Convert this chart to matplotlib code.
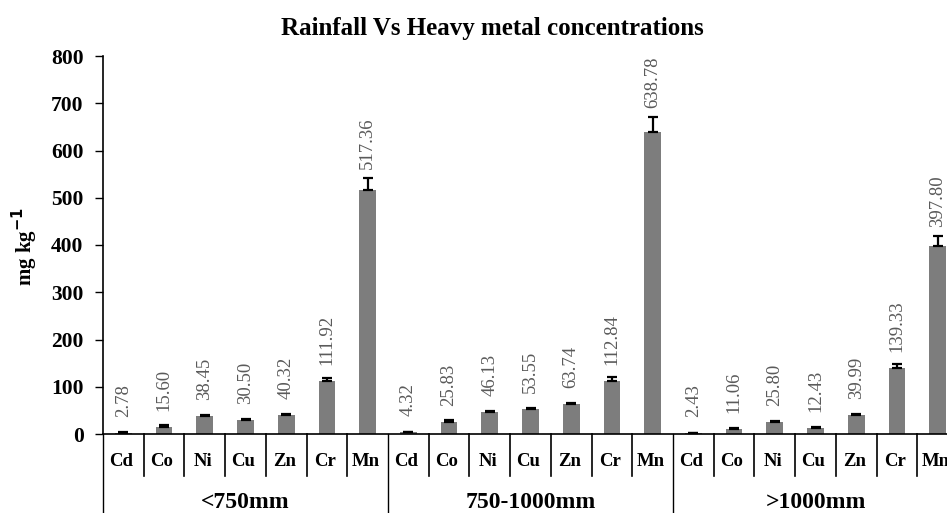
import matplotlib
matplotlib.use("Agg")
import matplotlib.pyplot as plt
import matplotlib.transforms as mtransforms
import numpy as np

metals = ["Cd", "Co", "Ni", "Cu", "Zn", "Cr", "Mn"]
groups = ["<750mm", "750-1000mm", ">1000mm"]
values_lt750 = [2.78, 15.60, 38.45, 30.50, 40.32, 111.92, 517.36]
values_750_1000 = [4.32, 25.83, 46.13, 53.55, 63.74, 112.84, 638.78]
values_gt1000 = [2.43, 11.06, 25.80, 12.43, 39.99, 139.33, 397.80]
errors_lt750 = [0.5, 2.5, 2.0, 2.0, 2.5, 7.0, 25.0]
errors_750_1000 = [0.5, 3.0, 2.0, 2.0, 2.5, 7.0, 32.0]
errors_gt1000 = [0.5, 2.0, 2.5, 1.5, 2.5, 8.0, 22.0]
yticks = [0, 100, 200, 300, 400, 500, 600, 700, 800]

plt.rcParams['font.family'] = ['Liberation Serif', 'DejaVu Serif']

values = values_lt750 + values_750_1000 + values_gt1000
errors = errors_lt750 + errors_750_1000 + errors_gt1000
n = len(values)
x = np.arange(n)

W, H = 947, 513
fig = plt.figure(figsize=(W / 100, H / 100), dpi=100)
ax_left, ax_right, ax_top, ax_bot = 103, 958, 56, 434
ax = fig.add_axes([ax_left / W, 1 - ax_bot / H, (ax_right - ax_left) / W, (ax_bot - ax_top) / H])

ax.bar(x, values, width=0.41, color="#7d7d7d", zorder=2)
ax.errorbar(x, values, yerr=[np.zeros(n), errors], fmt="none", ecolor="black",
            elinewidth=1.6, capsize=3.6, capthick=1.6, zorder=3)

ax.set_xlim(-0.5, n - 0.5)
ax.set_ylim(0, 800)
ax.set_yticks(yticks)
ax.set_yticklabels([str(v) for v in yticks], fontsize=15.5, fontweight="bold")
ax.tick_params(axis="y", direction="out", length=6, width=1, pad=8)
ax.set_xticks([])
for s in ["top", "right"]:
    ax.spines[s].set_visible(False)
ax.spines["left"].set_linewidth(1.2)
ax.spines["bottom"].set_linewidth(1.2)

px_per_unit = (ax_bot - ax_top) / 800.0
for xi, v, e in zip(x, values, errors):
    off = max(16, e * px_per_unit + 9)
    ax.annotate(f"{v:.2f}", xy=(xi, v), xytext=(0, off * 0.72), textcoords="offset points",
                rotation=90, ha="center", va="bottom", fontsize=13.5, color="#5a5a5a")

trans = mtransforms.blended_transform_factory(ax.transData, ax.transAxes)
ax_h = ax_bot - ax_top
y_cat_end = -(476 - ax_bot) / ax_h
y_bottom = -(H - ax_bot + 2) / ax_h
y_cat_lbl = -(462 - ax_bot) / ax_h
y_grp_lbl = -(502 - ax_bot) / ax_h

k = len(metals)
for i in range(n):
    ax.text(i - 0.05, y_cat_lbl, metals[i % k], transform=trans, ha="center", va="center",
            fontsize=13.5, fontweight="bold", clip_on=False)
for b in range(1, n):
    xb = b - 0.5
    if b % k == 0:
        ax.plot([xb, xb], [0, y_bottom], transform=trans, color="black", lw=1.0, clip_on=False)
    else:
        ax.plot([xb, xb], [0, y_cat_end], transform=trans, color="black", lw=1.2, clip_on=False)
ax.plot([-0.5, -0.5], [0, y_bottom], transform=trans, color="black", lw=1.0, clip_on=False)

for g, name in enumerate(groups):
    ax.text(g * k + (k - 1) / 2, y_grp_lbl, name, transform=trans, ha="center", va="center",
            fontsize=17, fontweight="bold", clip_on=False)

fig.text(492 / W, 1 - 29 / H, "Rainfall Vs Heavy metal concentrations", ha="center", va="center",
         fontsize=18, fontweight="bold")
fig.text(25 / W, 1 - 247 / H, "mg kg$^{\\mathbf{-1}}$", ha="center", va="center", rotation=90,
         fontsize=15, fontweight="bold")

fig.savefig("out.png", dpi=100)
